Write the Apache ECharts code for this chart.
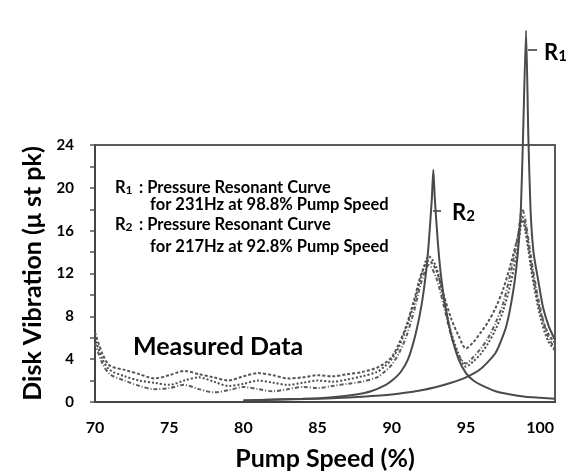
<!DOCTYPE html>
<html>
<head>
<meta charset="utf-8">
<script src="https://cdn.jsdelivr.net/npm/echarts@6/dist/echarts.min.js"></script>
<style>
  html, body { margin: 0; background: #fff; }
  #chart { width: 571px; height: 472px; }
</style>
</head>
<body>
<div id="chart"></div>
<script>
// measured data (three runs), pump speed in %
const measuredSpeed = [70, 70.5, 71, 72, 73, 74, 75, 76, 77, 78, 79, 80, 81, 82, 83, 84, 85, 86, 87, 88, 89, 89.5, 90, 90.5, 91, 91.5, 92, 92.5, 93, 93.5, 94, 94.5, 95, 95.5, 96, 96.5, 97, 97.5, 98, 98.5, 98.8, 99, 99.5, 100, 100.5, 101];
const measuredA = [6.5, 4.5, 3.4, 3.0, 2.6, 2.2, 2.5, 2.9, 2.6, 2.3, 2.0, 2.4, 2.7, 2.5, 2.2, 2.3, 2.5, 2.4, 2.6, 2.8, 3.2, 3.6, 4.2, 5.5, 7.2, 9.5, 12.0, 13.2, 12.3, 10.0, 7.8, 6.2, 5.0, 5.6, 6.5, 7.5, 8.8, 10.5, 12.8, 15.5, 17.3, 16.5, 12.0, 8.5, 6.5, 5.5];
const measuredB = [6.0, 4.0, 3.0, 2.4, 2.0, 1.8, 1.6, 2.0, 2.3, 1.9, 1.5, 1.7, 2.0, 1.8, 1.6, 1.8, 2.0, 1.9, 2.1, 2.4, 2.8, 3.3, 4.0, 5.2, 7.0, 9.2, 11.8, 13.6, 12.6, 9.5, 6.5, 4.5, 3.3, 3.8, 4.5, 5.5, 6.8, 8.5, 11.0, 14.5, 17.0, 16.0, 11.5, 8.0, 5.8, 4.8];
const measuredC = [5.5, 3.6, 2.6, 2.0, 1.5, 1.2, 1.3, 1.6, 1.2, 0.9, 1.1, 1.4, 1.2, 1.0, 1.2, 1.4, 1.3, 1.5, 1.7, 1.9, 2.3, 2.8, 3.5, 4.6, 6.2, 8.5, 11.2, 12.8, 11.6, 9.0, 6.2, 4.4, 3.6, 4.2, 5.0, 6.0, 7.4, 9.2, 12.0, 15.5, 18.0, 17.0, 12.5, 8.8, 6.2, 5.0];

// R1 : pressure resonant curve, 231Hz (peak as drawn in the figure)
const r1Speed = [80, 85, 88, 90, 92, 93, 94, 95, 96, 97, 97.7, 98.2, 98.5, 98.7, 98.85, 99.05, 99.2, 99.35, 99.55, 99.85, 100.2, 100.6, 101];
const r1Vib = [0.15, 0.3, 0.5, 0.7, 1.1, 1.4, 1.8, 2.3, 3.1, 4.6, 7.0, 10.5, 14.0, 18.0, 25.0, 34.7, 25.0, 18.0, 14.0, 11.5, 8.8, 7.0, 5.8];

// R2 : pressure resonant curve, 217Hz at 92.8%
const r2Speed = [80, 84, 86, 87.6, 88.6, 89.6, 90.1, 90.6, 91.1, 91.6, 92, 92.3, 92.5, 92.7, 92.8, 92.9, 93.1, 93.3, 93.6, 94, 94.5, 95, 95.5, 96, 97, 98, 99, 100, 101];
const r2Vib = [0.15, 0.3, 0.45, 0.7, 1.0, 1.6, 2.1, 2.8, 4.0, 6.3, 9.0, 12.0, 15.0, 19.0, 21.7, 19.0, 15.0, 12.0, 9.0, 6.3, 4.0, 2.7, 2.0, 1.6, 1.0, 0.7, 0.5, 0.4, 0.3];

const yMax = 24;
const yStep = 4;
const xMin = 70;
const xMax = 101;
const xStep = 5;

const FONT = 'Lato, "Open Sans", sans-serif';
const INK = '#4a4a4a';

function zip(xs, ys) {
  return xs.map(function (x, i) { return [x, ys[i]]; });
}

function rLabel(sub, size, subSize) {
  return {
    text: '{r|R}{s|' + sub + '}',
    rich: {
      r: { fontFamily: FONT, fontWeight: 'bold', fontSize: size, fill: '#000' },
      s: { fontFamily: FONT, fontWeight: 'bold', fontSize: subSize, fill: '#000', verticalAlign: 'bottom' }
    }
  };
}

function note(txt, x, y) {
  return {
    type: 'text', left: x, top: y,
    style: { text: txt, fontFamily: FONT, fontWeight: 'bold', fontSize: 16.5, fill: '#000' }
  };
}

const chart = echarts.init(document.getElementById('chart'), null, { renderer: 'canvas' });

var option = {
  backgroundColor: '#fff',
  animation: false,
  grid: {
    left: 95, right: 16, top: 145, bottom: 70,
    outerBoundsMode: 'none',
    show: true,
    borderColor: '#5a5a5a',
    borderWidth: 2,
    backgroundColor: 'transparent'
  },
  xAxis: {
    type: 'value',
    min: xMin,
    max: xMax,
    interval: xStep,
    name: 'Pump Speed (%)',
    nameLocation: 'middle',
    nameGap: 44,
    nameTextStyle: { fontFamily: FONT, fontWeight: 'bold', fontSize: 25, color: '#000' },
    axisLine: { show: true, lineStyle: { color: '#444', width: 2 } },
    axisTick: { show: false },
    splitLine: { show: false },
    axisLabel: {
      showMaxLabel: false,
      margin: 18,
      fontFamily: FONT, fontWeight: 'bold', fontSize: 16, color: '#000'
    }
  },
  yAxis: {
    type: 'value',
    min: 0,
    max: yMax,
    interval: yStep,
    name: 'Disk Vibration (\u03bc st pk)',
    nameLocation: 'middle',
    nameGap: 50,
    nameTextStyle: { fontFamily: FONT, fontWeight: 'bold', fontSize: 25, color: '#000' },
    axisLine: { show: true, lineStyle: { color: '#444', width: 2 } },
    axisTick: { show: true, inside: false, length: 5, lineStyle: { color: '#555', width: 1.5 } },
    minorTick: { show: true, splitNumber: 2, length: 5, lineStyle: { color: '#555', width: 1.5 } },
    splitLine: { show: false },
    axisLabel: {
      margin: 21,
      fontFamily: FONT, fontWeight: 'bold', fontSize: 15, color: '#000'
    }
  },
  series: [
    {
      name: 'Measured A', type: 'line', data: zip(measuredSpeed, measuredA),
      showSymbol: false, smooth: 0.3,
      lineStyle: { color: '#555', width: 2, type: [3, 2] }
    },
    {
      name: 'Measured B', type: 'line', data: zip(measuredSpeed, measuredB),
      showSymbol: false, smooth: 0.3,
      lineStyle: { color: '#4d4d4d', width: 2, type: 'dotted' }
    },
    {
      name: 'Measured C', type: 'line', data: zip(measuredSpeed, measuredC),
      showSymbol: false, smooth: 0.3,
      lineStyle: { color: '#5c5c5c', width: 2, type: [4, 2, 1, 2] }
    },
    {
      name: 'R2', type: 'line', data: zip(r2Speed, r2Vib),
      showSymbol: false, smooth: 0.2,
      lineStyle: { color: INK, width: 2 }
    },
    {
      name: 'R1', type: 'line', data: zip(r1Speed, r1Vib),
      showSymbol: false, smooth: 0.2, clip: false,
      lineStyle: { color: INK, width: 2 }
    }
  ],
  graphic: [
    // marker ticks next to the resonance peaks
    { type: 'line', shape: { x1: 528, y1: 50, x2: 537, y2: 50 }, style: { stroke: '#666', lineWidth: 2 } },
    { type: 'line', shape: { x1: 433, y1: 211, x2: 441, y2: 211 }, style: { stroke: '#666', lineWidth: 2 } },
    { type: 'text', left: 544, top: 42, style: rLabel('1', 22, 15) },
    { type: 'text', left: 452, top: 202, style: rLabel('2', 22, 15) },
    { type: 'text', left: 115, top: 179, style: rLabel('1', 16.5, 12) },
    note(': Pressure Resonant Curve', 139, 179),
    note('for 231Hz at 98.8% Pump Speed', 150, 196),
    { type: 'text', left: 115, top: 216, style: rLabel('2', 16.5, 12) },
    note(': Pressure Resonant Curve', 139, 216),
    note('for 217Hz at 92.8% Pump Speed', 150, 238),
    {
      type: 'text', left: 133, top: 334,
      style: { text: 'Measured Data', fontFamily: FONT, fontWeight: 'bold', fontSize: 25, fill: '#000' }
    }
  ]
};

chart.setOption(option);
</script>
</body>
</html>
